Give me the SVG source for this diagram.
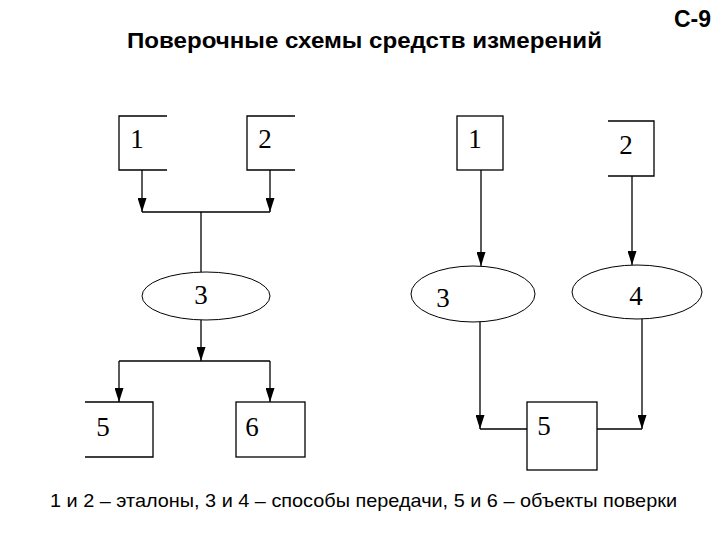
<svg xmlns="http://www.w3.org/2000/svg" width="720" height="540" viewBox="0 0 720 540">
<style>
.sh{fill:none;stroke:#000;stroke-width:1.3}
.el{fill:#fff;stroke:#000;stroke-width:1}
.ln{fill:none;stroke:#000;stroke-width:1.3}
.ar{marker-end:url(#ah)}
.num{font-family:"Liberation Serif","Times New Roman",serif;font-size:27px;fill:#000;text-anchor:middle}
.ttl{font-family:"Liberation Sans",Arial,sans-serif;font-weight:bold;fill:#000}
.cap{font-family:"Liberation Sans",Arial,sans-serif;font-size:19px;fill:#000}
</style>
<defs>
<marker id="ah" markerUnits="userSpaceOnUse" markerWidth="14" markerHeight="9" refX="14" refY="4.5" orient="auto">
<path d="M0,0 L14,4.5 L0,9 z" fill="#000"/>
</marker>
</defs>
<rect width="720" height="540" fill="#fff"/>
<text class="ttl" x="674" y="27" font-size="24" textLength="37" lengthAdjust="spacingAndGlyphs">С-9</text>
<text class="ttl" x="127" y="48" font-size="22.5" textLength="475" lengthAdjust="spacingAndGlyphs">Поверочные схемы средств измерений</text>

<g id="connectors">
<line class="ln ar" x1="142" y1="170" x2="142" y2="212"/>
<line class="ln ar" x1="270" y1="170" x2="270" y2="212"/>
<line class="ln" x1="142" y1="212" x2="270" y2="212"/>
<line class="ln" x1="201" y1="212" x2="201" y2="272"/>
<line class="ln ar" x1="201" y1="320" x2="201" y2="361"/>
<line class="ln" x1="119" y1="361" x2="270" y2="361"/>
<line class="ln ar" x1="119" y1="361" x2="119" y2="402"/>
<line class="ln ar" x1="270" y1="361" x2="270" y2="402"/>

<line class="ln ar" x1="481" y1="170" x2="481" y2="266"/>
<line class="ln ar" x1="632" y1="176" x2="632" y2="265"/>
<line class="ln ar" x1="480" y1="322" x2="480" y2="429"/>
<line class="ln" x1="480" y1="429" x2="527" y2="429"/>
<line class="ln ar" x1="642" y1="319" x2="642" y2="429"/>
<line class="ln" x1="597" y1="429" x2="642" y2="429"/>
</g>

<g id="L1"><path class="sh" d="M167,116 H119 V170 H167"/><text class="num" x="137" y="148">1</text></g>
<g id="L2"><path class="sh" d="M295,116 H247 V170 H295"/><text class="num" x="265" y="148">2</text></g>
<g id="L3"><ellipse class="el" cx="206" cy="296" rx="64" ry="24"/><text class="num" x="201" y="304">3</text></g>
<g id="L5"><path class="sh" d="M85,402 H153 V457 H85"/><text class="num" x="103" y="436">5</text></g>
<g id="L6"><rect class="sh" x="236" y="402" width="69" height="55"/><text class="num" x="252" y="436">6</text></g>

<g id="R1"><rect class="sh" x="457" y="116" width="46" height="54"/><text class="num" x="475" y="148">1</text></g>
<g id="R2"><path class="sh" d="M608,121 H654 V176 H608"/><text class="num" x="626" y="154">2</text></g>
<g id="R3"><ellipse class="el" cx="473" cy="294" rx="62" ry="28"/><text class="num" x="443" y="307">3</text></g>
<g id="R4"><ellipse class="el" cx="637" cy="292" rx="65" ry="27"/><text class="num" x="636" y="305">4</text></g>
<g id="R5"><rect class="sh" x="527" y="402" width="70" height="68"/><text class="num" x="544" y="435">5</text></g>

<text class="cap" x="50" y="507" textLength="627" lengthAdjust="spacingAndGlyphs">1 и 2 – эталоны, 3 и 4 – способы передачи, 5 и 6 – объекты поверки</text>
</svg>
